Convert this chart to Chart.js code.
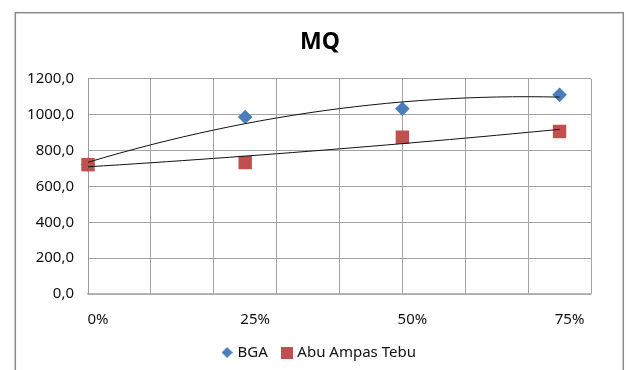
<!DOCTYPE html>
<html>
<head>
<meta charset="utf-8">
<title>MQ</title>
<script src="https://cdn.jsdelivr.net/npm/chart.js@4.4.1/dist/chart.umd.min.js"></script>
<style>
  html, body { margin: 0; padding: 0; background: #ffffff; }
  canvas { display: block; }
</style>
</head>
<body>
<canvas id="mq" width="626" height="370"></canvas>
<script>
// Replacement ratio (x) and MQ values of the two mixes
const ratios = [0, 0.25, 0.5, 0.75];
const ratioLabels = ['0%', '25%', '50%', '75%'];
const bgaValues = [722, 987, 1033, 1110];
const abuValues = [721, 733, 874, 906];
const yTickValues = [0, 200, 400, 600, 800, 1000, 1200];

const FONT = "'Noto Sans', 'DejaVu Sans', sans-serif";
const TEXT = '#111111';
const GRID = '#a3a3a3';
const BLUE = '#4a7ebb';
const RED = '#c0504d';

// Least-squares second-order polynomial trend through a series
function quadFit(xs, ys) {
  const S = k => xs.reduce((s, x) => s + Math.pow(x, k), 0);
  const T = k => xs.reduce((s, x, i) => s + ys[i] * Math.pow(x, k), 0);
  const M = [[S(0), S(1), S(2)], [S(1), S(2), S(3)], [S(2), S(3), S(4)]];
  const v = [T(0), T(1), T(2)];
  const det3 = m =>
    m[0][0] * (m[1][1] * m[2][2] - m[1][2] * m[2][1]) -
    m[0][1] * (m[1][0] * m[2][2] - m[1][2] * m[2][0]) +
    m[0][2] * (m[1][0] * m[2][1] - m[1][1] * m[2][0]);
  const D = det3(M);
  const c = [0, 1, 2].map(j =>
    det3(M.map((row, i) => row.map((val, k) => (k === j ? v[i] : val)))) / D);
  return x => c[0] + c[1] * x + c[2] * x * x;
}

function trendPoints(xs, ys) {
  const f = quadFit(xs, ys);
  const x0 = xs[0], x1 = xs[xs.length - 1];
  const pts = [];
  const n = 30;
  for (let i = 0; i <= n; i++) {
    const x = x0 + (x1 - x0) * i / n;
    pts.push({ x: x, y: f(x) });
  }
  return pts;
}

// Small marker images for the legend keys
function markerImage(kind, color, size) {
  const c = document.createElement('canvas');
  c.width = size; c.height = size;
  const g = c.getContext('2d');
  g.fillStyle = color;
  g.beginPath();
  if (kind === 'diamond') {
    g.moveTo(size / 2, 0); g.lineTo(size, size / 2);
    g.lineTo(size / 2, size); g.lineTo(0, size / 2);
    g.closePath();
  } else {
    g.rect(0, 0, size, size);
  }
  g.fill();
  return c;
}
const legendMarkers = [markerImage('diamond', BLUE, 11), markerImage('square', RED, 12)];

const toPoints = ys => ratios.map((x, i) => ({ x: x, y: ys[i] }));

const framePlugin = {
  id: 'frame',
  beforeDraw(chart) {
    const ctx = chart.ctx;
    ctx.save();
    ctx.strokeStyle = '#8a8a8a';
    ctx.lineWidth = 1.5;
    ctx.strokeRect(15.3, 12.7, 608, 400);
    ctx.restore();
  }
};

new Chart(document.getElementById('mq'), {
  type: 'scatter',
  data: {
    datasets: [
      {
        label: 'BGA',
        data: toPoints(bgaValues),
        pointStyle: 'rectRot',
        pointRadius: 7.3,
        pointHoverRadius: 7.3,
        backgroundColor: BLUE,
        borderColor: BLUE,
        borderWidth: 0,
        clip: false,
        order: 2
      },
      {
        label: 'Abu Ampas Tebu',
        data: toPoints(abuValues),
        pointStyle: 'rect',
        pointRadius: 9.5,
        pointHoverRadius: 9.5,
        backgroundColor: RED,
        borderColor: RED,
        borderWidth: 0,
        clip: false,
        order: 1
      },
      {
        label: 'Poly. (BGA)',
        type: 'line',
        data: trendPoints(ratios, bgaValues),
        borderColor: '#111111',
        borderWidth: 1,
        pointRadius: 0,
        fill: false,
        tension: 0,
        clip: false,
        order: 0
      },
      {
        label: 'Poly. (Abu Ampas Tebu)',
        type: 'line',
        data: trendPoints(ratios, abuValues),
        borderColor: '#111111',
        borderWidth: 1,
        pointRadius: 0,
        fill: false,
        tension: 0,
        clip: false,
        order: 0
      }
    ]
  },
  options: {
    responsive: false,
    animation: false,
    events: [],
    layout: { padding: { left: 14, right: 0, top: 0, bottom: 0 } },
    plugins: {
      title: {
        display: true,
        text: 'MQ',
        color: '#000000',
        font: { family: FONT, size: 23, weight: 'bold' },
        padding: { top: 28.7, bottom: 22.4 }
      },
      legend: {
        display: true,
        position: 'bottom',
        labels: {
          color: TEXT,
          font: { family: FONT, size: 15 },
          usePointStyle: true,
          boxWidth: 6,
          boxHeight: 12,
          padding: 16,
          generateLabels(chart) {
            const items = Chart.defaults.plugins.legend.labels.generateLabels(chart);
            items.forEach(it => {
              if (it.datasetIndex < legendMarkers.length) it.pointStyle = legendMarkers[it.datasetIndex];
            });
            return items;
          },
          filter: item => item.datasetIndex < 2,
          sort: (a, b) => a.datasetIndex - b.datasetIndex
        }
      },
      tooltip: { enabled: false }
    },
    scales: {
      x: {
        type: 'linear',
        position: 'bottom',
        weight: 0,
        min: 0,
        max: 0.8,
        ticks: { stepSize: 0.1, display: false },
        grid: { color: GRID, lineWidth: 1, drawTicks: false },
        border: { color: '#b5b5b5', width: 1.5 },
        afterFit: s => { s.height = 0; }
      },
      x2: {
        type: 'linear',
        position: 'bottom',
        weight: 1,
        min: 0,
        max: 0.8,
        afterBuildTicks: s => { s.ticks = ratios.map(v => ({ value: v })); },
        ticks: {
          callback: (v, i) => ratioLabels[i],
          color: TEXT,
          font: { family: FONT, size: 15 },
          padding: 17,
          labelOffset: 10,
          autoSkip: false,
          maxRotation: 0
        },
        grid: { display: false, drawTicks: false },
        border: { display: false },
        afterFit: s => { s.height = 34.9; }
      },
      y: {
        type: 'linear',
        position: 'left',
        min: 0,
        max: 1200,
        afterBuildTicks: s => { s.ticks = yTickValues.map(v => ({ value: v })); },
        ticks: {
          callback: v => v.toFixed(1).replace('.', ','),
          color: TEXT,
          font: { family: FONT, size: 15 },
          padding: 14
        },
        grid: { color: GRID, lineWidth: 1, drawTicks: false },
        border: { color: '#9a9a9a', width: 1 },
        afterFit: s => { s.width = 74; }
      },
      yR: {
        type: 'linear',
        position: 'right',
        display: true,
        grid: { display: false, drawTicks: false },
        ticks: { display: false },
        border: { display: false },
        afterFit: s => { s.width = 35; }
      }
    }
  },
  plugins: [framePlugin]
});
</script>
</body>
</html>
